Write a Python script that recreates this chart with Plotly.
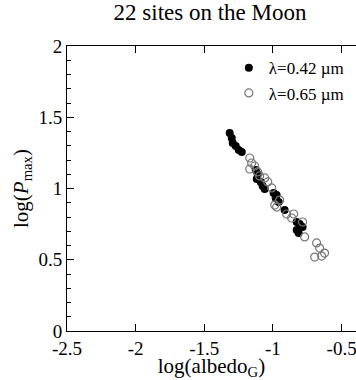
import plotly.graph_objects as go

# lambda = 0.42 um (filled)
x042 = [-1.315, -1.300, -1.293, -1.271, -1.249, -1.227, -1.125, -1.111, -1.118, -1.089, -1.075,
        -1.060, -0.995, -0.980, -0.958, -0.915, -0.827, -0.805, -0.784, -0.827, -0.813, -0.973]
y042 = [1.389, 1.354, 1.319, 1.298, 1.270, 1.256, 1.130, 1.102, 1.067, 1.046, 1.018,
        0.996, 0.968, 0.933, 0.905, 0.849, 0.765, 0.751, 0.730, 0.709, 0.688, 0.954]
# lambda = 0.65 um (open)
x065 = [-1.169, -1.155, -1.169, -1.133, -1.111, -1.060, -1.038, -1.009, -0.987, -0.973, -0.900,
        -0.849, -0.769, -0.682, -0.660, -0.624, -0.696, -0.645, -0.784, -0.951, -1.097, -0.864]
y065 = [1.214, 1.179, 1.137, 1.158, 1.116, 1.074, 1.046, 1.004, 0.884, 0.870, 0.821,
        0.821, 0.660, 0.618, 0.582, 0.547, 0.519, 0.526, 0.765, 0.919, 1.088, 0.793]

x_tickvals = [-2.5, -2.0, -1.5, -1.0, -0.5]
x_ticktext = ["-2.5", "-2", "-1.5", "-1", "-0.5"]

FONT = "Liberation Serif, Times New Roman, serif"

x_alias = {f"{v:g}".replace("-", "\u2212"): t for v, t in zip(x_tickvals, x_ticktext)}

fig = go.Figure()
fig.add_trace(go.Scatter(x=x042, y=y042, mode="markers", name="λ=0.42 µm",
                         marker=dict(symbol="circle", size=8, color="black")))
fig.add_trace(go.Scatter(x=x065, y=y065, mode="markers", name="λ=0.65 µm",
                         marker=dict(symbol="circle-open", size=8, color="#777777",
                                     line=dict(width=1.2, color="#777777"))))

# x axis: no minor ticks (diagnostic); y axis: minor ticks, mirror=True
fig.update_xaxes(range=[-2.5, -0.395], tickmode="linear", tick0=-2.5, dtick=0.5, labelalias=x_alias,
                 ticks="inside", ticklen=7, tickwidth=1.3, tickcolor="black",
                 showline=True, linecolor="black", mirror="ticks",
                 ticklabeloverflow="allow",
                 tickfont=dict(family=FONT, size=19, color="black"),
                 title=dict(text="log(albedo<sub>G</sub>)", font=dict(family=FONT, size=21, color="black"),
                            standoff=2))
fig.update_yaxes(range=[0, 2], tickmode="linear", tick0=0, dtick=0.5,
                 ticks="inside", ticklen=7, tickwidth=1.3, tickcolor="black",
                 showline=True, linecolor="black", mirror=True,
                 minor=dict(ticks="inside", ticklen=4, tickcolor="black"),
                 tickfont=dict(family=FONT, size=19, color="black"),
                 title=dict(text="log(<i>P</i><sub>max</sub>)", font=dict(family=FONT, size=21, color="black"),
                            standoff=4))

fig.update_layout(
    template="simple_white",
    width=356, height=380,
    margin=dict(l=67, r=0, t=46, b=49),
    title=dict(text="22 sites on the Moon", x=0.59, xanchor="center", y=0.99, yanchor="top",
               font=dict(family=FONT, size=23, color="black")),
    showlegend=True,
    legend=dict(x=0.56, y=0.985, xanchor="left", yanchor="top", bgcolor="rgba(0,0,0,0)",
                font=dict(family=FONT, size=17, color="black"), itemwidth=30, tracegroupgap=0),
)

fig.write_html("out.html")
